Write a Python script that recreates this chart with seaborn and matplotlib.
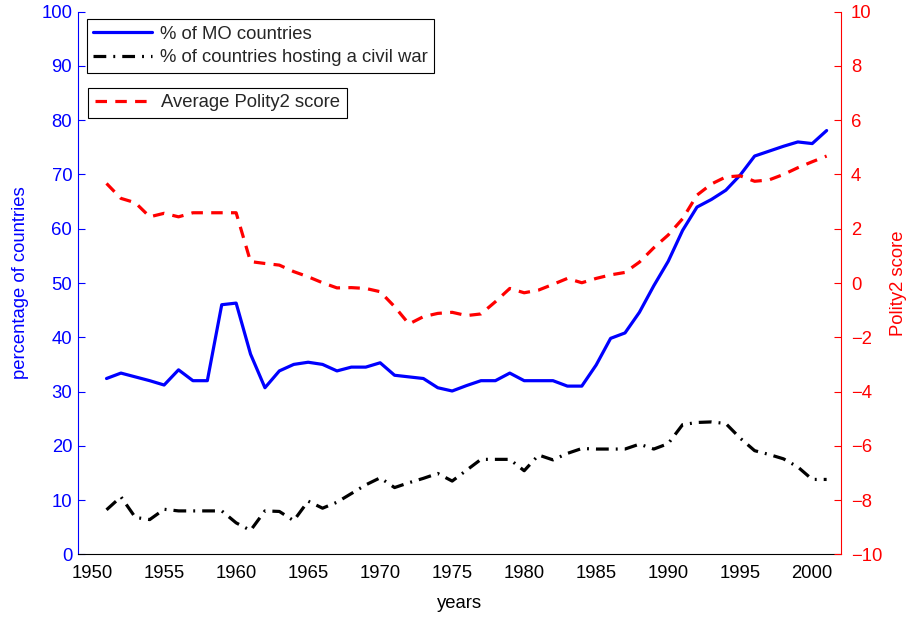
import numpy as np
import pandas as pd
import matplotlib
matplotlib.use("Agg")
import matplotlib.pyplot as plt
import seaborn as sns

years = list(range(1951, 2002))

mo_share = [32.4, 33.4, 32.7, 32.0, 31.2, 34.0, 32.0, 32.0, 46.0, 46.3,
            36.9, 30.7, 33.8, 35.0, 35.4, 35.0, 33.8, 34.5, 34.5, 35.3,
            33.0, 32.7, 32.4, 30.7, 30.1, 31.1, 32.0, 32.0, 33.4, 32.0,
            32.0, 32.0, 31.0, 31.0, 34.9, 39.8, 40.8, 44.6, 49.5, 54.0,
            59.7, 64.0, 65.4, 67.1, 69.9, 73.4, 74.3, 75.2, 76.0, 75.7,
            78.1]

civil_war = [8.2, 10.6, 6.8, 6.4, 8.3, 8.0, 8.0, 8.0, 8.0, 5.8,
             4.4, 8.0, 7.9, 6.2, 9.8, 8.5, 9.6, 11.2, 12.8, 14.1,
             12.3, 13.2, 14.0, 14.9, 13.5, 15.5, 17.5, 17.5, 17.5, 15.4,
             18.3, 17.4, 18.6, 19.5, 19.4, 19.4, 19.4, 20.3, 19.4, 20.4,
             23.9, 24.3, 24.4, 24.1, 21.4, 19.1, 18.4, 17.6, 16.1, 13.8,
             13.8]

polity2 = [3.67, 3.12, 2.96, 2.44, 2.57, 2.44, 2.59, 2.59, 2.59, 2.59,
           0.79, 0.72, 0.66, 0.42, 0.23, 0.01, -0.18, -0.17, -0.20, -0.32,
           -0.87, -1.51, -1.24, -1.12, -1.08, -1.20, -1.14, -0.69, -0.20, -0.36,
           -0.26, -0.05, 0.17, 0.01, 0.17, 0.30, 0.39, 0.77, 1.30, 1.77,
           2.37, 3.24, 3.65, 3.91, 3.95, 3.75, 3.80, 4.00, 4.25, 4.47,
           4.68]

df = pd.DataFrame({"year": years, "mo": mo_share, "war": civil_war, "polity": polity2})

sns.set_theme(style="white")
plt.rcParams["font.family"] = ["Liberation Sans", "DejaVu Sans"]
plt.rcParams["xtick.direction"] = "in"
plt.rcParams["ytick.direction"] = "in"
fs = 13.3

fig = plt.figure(figsize=(9.11, 6.17), dpi=100)
ax = fig.add_axes([0.0853, 0.1016, 0.8379, 0.8794])
ax2 = ax.twinx()

sns.lineplot(data=df, x="year", y="mo", ax=ax, color="blue", linewidth=2.3,
             label="% of MO countries")
sns.lineplot(data=df, x="year", y="war", ax=ax, color="black", linewidth=2.3,
             linestyle=(0, (4, 2.2, 0.6, 2.2)),
             label="% of countries hosting a civil war")
sns.lineplot(data=df, x="year", y="polity", ax=ax2, color="red", linewidth=2.3,
             linestyle=(0, (3.6, 2.6)), label="Average Polity2 score")

ax.set_xlim(1949, 2002)
ax.set_ylim(0, 100)
ax2.set_ylim(-10, 10)
ax.set_xticks(range(1950, 2001, 5))
ax.set_yticks(range(0, 101, 10))
ax2.set_yticks(range(-10, 11, 2))

ax.set_xlabel("years", fontsize=fs, color="black", labelpad=9)
ax.set_ylabel("percentage of countries", fontsize=fs, color="blue", labelpad=9)
ax2.set_ylabel("Polity2 score", fontsize=fs, color="red", labelpad=6)

for a in (ax, ax2):
    a.spines["top"].set_visible(False)
    a.grid(False)
ax.spines["left"].set_color("blue")
ax.spines["bottom"].set_color("black")
ax.spines["right"].set_visible(False)
ax2.spines["right"].set_color("red")
ax2.spines["left"].set_visible(False)
ax2.spines["bottom"].set_visible(False)
for s in ax.spines.values():
    s.set_linewidth(0.8)
ax2.spines["right"].set_linewidth(0.8)

ax.tick_params(axis="x", colors="black", labelsize=fs, length=5, width=0.8, pad=8)
ax.tick_params(axis="y", colors="blue", labelsize=fs, length=5, width=0.8, pad=4,
               left=True)
ax2.tick_params(axis="y", colors="red", labelsize=fs, length=5, width=0.8, pad=7,
                right=True)

leg_kw = dict(fontsize=fs, frameon=True, fancybox=False, framealpha=1,
              edgecolor="black", handlelength=3.2, handletextpad=0.4,
              borderpad=0.35, labelspacing=0.35, borderaxespad=0)
h1, l1 = ax.get_legend_handles_labels()
leg1 = ax.legend(h1, l1, loc="upper left", bbox_to_anchor=(0.0118, 0.986), **leg_kw)
leg1.get_frame().set_linewidth(0.8)
h2, l2 = ax2.get_legend_handles_labels()
leg2 = ax2.legend(h2, l2, loc="upper left", bbox_to_anchor=(0.0139, 0.860), **leg_kw)
leg2.get_frame().set_linewidth(0.8)

fig.savefig("out.png", dpi=100)
